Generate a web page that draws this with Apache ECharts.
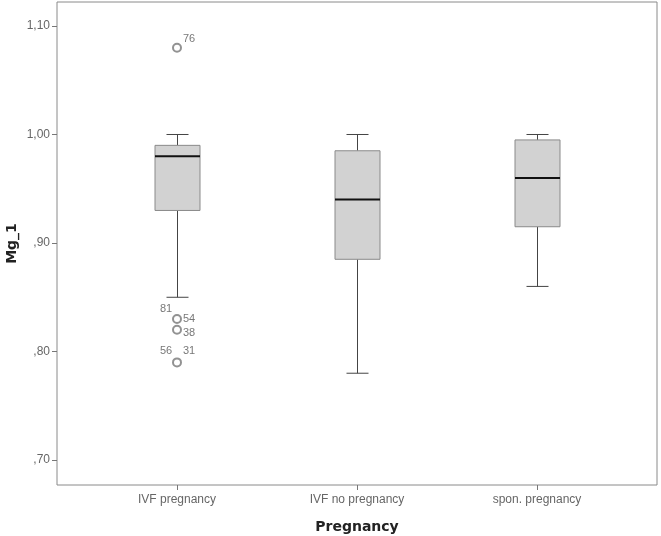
<!DOCTYPE html>
<html>
<head>
<meta charset="utf-8">
<script src="https://cdn.jsdelivr.net/npm/echarts@6/dist/echarts.min.js"></script>
<style>
  html, body { margin: 0; padding: 0; background: #fff; }
  #chart { width: 661px; height: 536px; }
</style>
</head>
<body>
<div id="chart"></div>
<script>
// groups on the x axis
var categories = ['IVF pregnancy', 'IVF no pregnancy', 'spon. pregnancy']
// whisker low, Q1, median, Q3, whisker high
var boxLow = [0.85, 0.78, 0.86]
var boxQ1 = [0.93, 0.885, 0.915]
var boxMedian = [0.98, 0.94, 0.96]
var boxQ3 = [0.99, 0.985, 0.995]
var boxHigh = [1.00, 1.00, 1.00]
// outliers (all in IVF pregnancy)
var outlierGroup = [0, 0, 0, 0]
var outlierValues = [1.08, 0.83, 0.82, 0.79]
// case numbers written next to outliers
var caseIds = ['76', '81', '54', '38', '56', '31']
var caseValues = [1.08, 0.83, 0.83, 0.82, 0.79, 0.79]
var yTicks = [0.7, 0.8, 0.9, 1.0, 1.1]

// label placement for the case numbers (style only)
var caseOffsets = [[12, -9], [-11, -10], [12, 0], [12, 3], [-11, -11], [12, -11]]

var boxData = categories.map(function (c, i) {
  return [i, boxLow[i], boxQ1[i], boxMedian[i], boxQ3[i], boxHigh[i]]
})
var outlierData = outlierValues.map(function (v, i) {
  return [outlierGroup[i], v]
})
var caseData = caseIds.map(function (id, i) {
  return {
    value: [0, caseValues[i]],
    label: { formatter: id, offset: caseOffsets[i] }
  }
})

function fmtY (v) {
  return v.toFixed(2).replace('.', ',').replace(/^0/, '')
}

var chart = echarts.init(document.getElementById('chart'))
chart.setOption({
  animation: false,
  textStyle: { fontFamily: 'Liberation Sans' },
  grid: {
    left: 57, top: 2, width: 600, height: 483,
    show: true, borderColor: '#8a8a8a', borderWidth: 1,
    containLabel: false,
    outerBoundsMode: 'none'
  },
  xAxis: {
    type: 'value',
    min: -2 / 3,
    max: 8 / 3,
    name: 'Pregnancy',
    nameLocation: 'middle',
    nameGap: 35,
    nameMoveOverlap: false,
    nameTextStyle: { fontSize: 14, fontWeight: 'bold', color: '#222', fontFamily: 'DejaVu Sans' },
    axisLine: { show: false, onZero: false },
    splitLine: { show: false },
    axisTick: { show: true, length: 5, customValues: [0, 1, 2], lineStyle: { color: '#777' } },
    axisLabel: {
      customValues: [0, 1, 2],
      color: '#666', fontSize: 12, margin: 9,
      formatter: function (v) { return categories[Math.round(v)] }
    }
  },
  yAxis: {
    type: 'value',
    min: 0.677,
    max: 1.1221,
    name: 'Mg_1',
    nameLocation: 'middle',
    nameGap: 38,
    nameRotate: 90,
    nameMoveOverlap: false,
    nameTextStyle: { fontSize: 14, fontWeight: 'bold', color: '#222', fontFamily: 'DejaVu Sans' },
    axisLine: { show: false, onZero: false },
    splitLine: { show: false },
    axisTick: { show: true, length: 5, customValues: yTicks, lineStyle: { color: '#777' } },
    axisLabel: {
      customValues: yTicks,
      color: '#666', fontSize: 12, margin: 7,
      formatter: fmtY
    }
  },
  series: [
    {
      type: 'custom',
      data: boxData,
      encode: { x: 0, y: [1, 2, 3, 4, 5] },
      renderItem: function (params, api) {
        var x = api.value(0)
        var lo = api.coord([x, api.value(1)])
        var q1 = api.coord([x, api.value(2)])
        var med = api.coord([x, api.value(3)])
        var q3 = api.coord([x, api.value(4)])
        var hi = api.coord([x, api.value(5)])
        var cx = Math.round(lo[0]) + 0.5
        var bw = 45
        var cw = 22
        var wStyle = { stroke: '#444', lineWidth: 1 }
        return {
          type: 'group',
          children: [
            { type: 'line', shape: { x1: cx, y1: hi[1], x2: cx, y2: q3[1] }, style: wStyle },
            { type: 'line', shape: { x1: cx, y1: q1[1], x2: cx, y2: lo[1] }, style: wStyle },
            { type: 'line', shape: { x1: cx - cw / 2, y1: hi[1], x2: cx + cw / 2, y2: hi[1] }, style: wStyle },
            { type: 'line', shape: { x1: cx - cw / 2, y1: lo[1], x2: cx + cw / 2, y2: lo[1] }, style: wStyle },
            {
              type: 'rect',
              shape: { x: cx - bw / 2, y: q3[1], width: bw, height: q1[1] - q3[1] },
              style: { fill: '#d2d2d2', stroke: '#8a8a8a', lineWidth: 1 }
            },
            {
              type: 'line',
              shape: { x1: cx - bw / 2, y1: med[1], x2: cx + bw / 2, y2: med[1] },
              style: { stroke: '#111', lineWidth: 2 }
            }
          ]
        }
      }
    },
    {
      type: 'scatter',
      data: outlierData,
      symbol: 'emptyCircle',
      symbolSize: 8,
      itemStyle: { color: '#777', borderColor: '#777', borderWidth: 1 }
    },
    {
      type: 'scatter',
      data: caseData,
      symbolSize: 0,
      label: { show: true, position: 'inside', color: '#555', fontSize: 11 }
    }
  ]
})
</script>
</body>
</html>
